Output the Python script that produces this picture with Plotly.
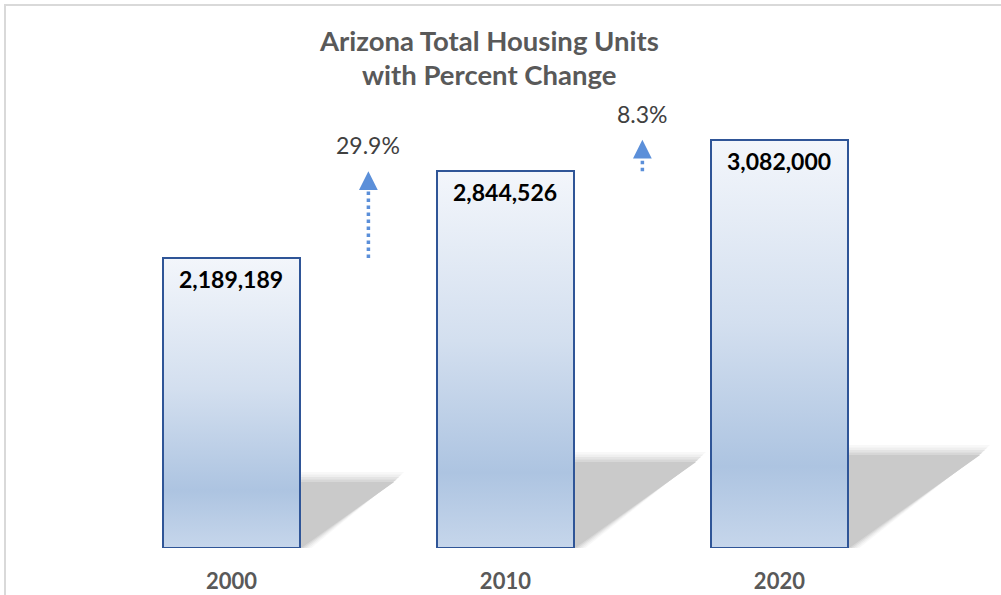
import base64
import plotly.graph_objects as go

# ---- data ----
years = ["2000", "2010", "2020"]
units = [2189189, 2844526, 3082000]
unit_labels = ["2,189,189", "2,844,526", "3,082,000"]
pct_change = ["29.9%", "8.3%"]
title_lines = ["Arizona Total Housing Units", "with Percent Change"]

xs = list(range(len(years)))
BAR_W = 0.5
FONT = "Lato"
PX_PER_UNIT_Y = 464 / 3502700
PX_PER_UNIT_X = 274.0

# gradient fill for bars (svg image stretched to each bar)
svg = (
    "<svg xmlns='http://www.w3.org/2000/svg' width='10' height='100' preserveAspectRatio='none'>"
    "<defs><linearGradient id='g' x1='0' y1='0' x2='0' y2='1'>"
    "<stop offset='0' stop-color='#f3f6fb'/>"
    "<stop offset='0.45' stop-color='#d3dfef'/>"
    "<stop offset='0.8' stop-color='#adc4e1'/>"
    "<stop offset='1' stop-color='#c6d6eb'/>"
    "</linearGradient></defs>"
    "<rect width='10' height='100' fill='url(#g)'/></svg>"
)
grad_src = "data:image/svg+xml;base64," + base64.b64encode(svg.encode()).decode()

fig = go.Figure()

# shadows (soft triangles to the right of each bar)
shadow_layers = [(10, "#f8f8f8"), (7.5, "#efefef"), (5, "#e4e4e4"), (2.5, "#d7d7d7"), (0, "#cacaca")]
for x, v in zip(xs, units):
    top = 0.228 * v
    dx = 0.155e-6 * v
    x0 = x + BAR_W / 2 + 1.3 / PX_PER_UNIT_X
    for grow, col in shadow_layers:
        gx = grow / PX_PER_UNIT_X
        gy = grow / PX_PER_UNIT_Y
        fig.add_trace(go.Scatter(
            x=[x0, x0, x0 + dx + gx, x0 + gx, x0],
            y=[0, top + gy, top + gy, 0, 0],
            fill="toself", fillcolor=col, mode="lines",
            line=dict(width=0, color=col), hoverinfo="skip", showlegend=False,
        ))

# bars (outline), gradient images beneath
fig.add_trace(go.Bar(
    x=xs, y=units, width=BAR_W,
    marker=dict(color="rgba(0,0,0,0)", line=dict(color="#2f5597", width=2)),
    hoverinfo="skip", showlegend=False,
))
for x, v in zip(xs, units):
    fig.add_layout_image(dict(
        source=grad_src, xref="x", yref="y", x=x - BAR_W / 2, y=v,
        sizex=BAR_W, sizey=v, xanchor="left", yanchor="top",
        sizing="stretch", layer="below",
    ))

# value labels
for x, v, lab in zip(xs, units, unit_labels):
    fig.add_annotation(x=x, y=v, text=lab, showarrow=False, yanchor="top", yshift=-5,
                       font=dict(family=FONT, size=23, color="#000000", weight="bold"))

# percent change arrows
ARROW_C = "#5b8fd9"
for i, p in enumerate(pct_change):
    xm = xs[i] + 0.5
    v0, v1 = units[i], units[i + 1]
    head = 11 / PX_PER_UNIT_Y
    fig.add_trace(go.Scatter(
        x=[xm, xm], y=[v0, v1 - head], mode="lines",
        line=dict(color=ARROW_C, width=3.5, dash="dot"),
        hoverinfo="skip", showlegend=False,
    ))
    fig.add_annotation(x=xm, y=v1, ax=0, ay=12, axref="pixel", ayref="pixel",
                       showarrow=True, arrowhead=2, arrowsize=1.5, arrowwidth=2.5,
                       arrowcolor=ARROW_C, text="")
    fig.add_annotation(x=xm, y=v1, text=p, showarrow=False, yanchor="bottom", yshift=10,
                       font=dict(family=FONT, size=23, color="#404040"))

# title (two lines)
fig.add_annotation(xref="paper", yref="paper", x=0.4513, y=1.0948, text=title_lines[0],
                   showarrow=False, xanchor="center", yanchor="middle",
                   font=dict(family=FONT, size=27.5, color="#595959", weight="bold"))
fig.add_annotation(xref="paper", yref="paper", x=0.4513, y=1.0194, text=title_lines[1],
                   showarrow=False, xanchor="center", yanchor="middle",
                   font=dict(family=FONT, size=27.5, color="#595959", weight="bold"))

# outer light border
fig.add_shape(type="rect", xref="paper", yref="paper", x0=-0.0664, x1=1.2, y0=-0.3, y1=1.1703,
              line=dict(color="#d9d9d9", width=2), fillcolor="rgba(0,0,0,0)", layer="below")

fig.update_layout(
    width=1001, height=595,
    margin=dict(l=67, r=0, t=84, b=47, autoexpand=False),
    paper_bgcolor="white", plot_bgcolor="white",
    xaxis=dict(range=[-0.6, 2.8088], tickvals=xs, ticktext=years, showgrid=False,
               zeroline=False, showline=False, ticks="", ticklabelstandoff=18,
               tickfont=dict(family=FONT, size=22, color="#595959", weight="bold")),
    yaxis=dict(range=[0, 3502700], visible=False, showgrid=False, zeroline=False),
    bargap=0,
)

fig.write_html("out.html", config={"displayModeBar": False},
               post_script="document.body.style.margin='0';")
